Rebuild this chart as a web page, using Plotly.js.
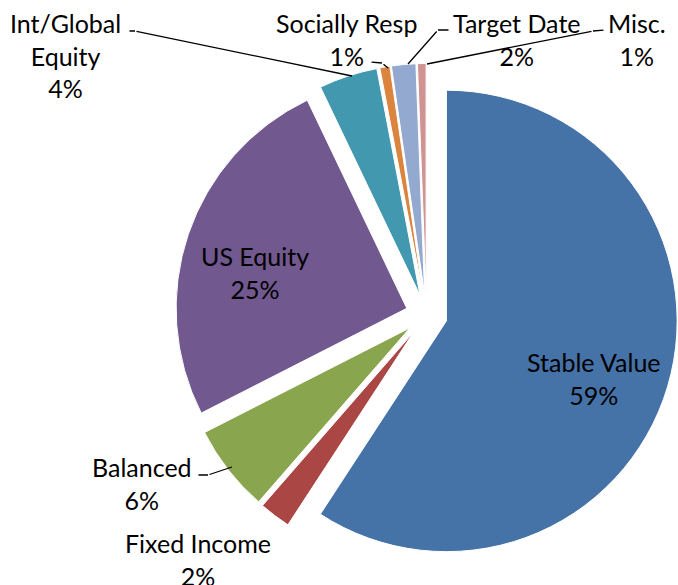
<!DOCTYPE html>
<html>
<head>
<meta charset="utf-8">
<script src="https://cdn.plot.ly/plotly-3.0.1.min.js"></script>
<style>
  body { margin: 0; background: #fff; }
  #chart { width: 678px; height: 585px; }
</style>
</head>
<body>
<div id="chart"></div>
<script>
// fund categories, clockwise from 12 o'clock
const categories = ['Stable Value', 'Fixed Income', 'Balanced', 'US Equity',
                    'Int/Global Equity', 'Socially Resp', 'Target Date', 'Misc.'];
const shares = [59.2, 2.2, 6.1, 25.4, 4.1, 0.7, 1.7, 0.6];
const colors = ['#4572A7', '#AA4643', '#89A54E', '#71588F',
                '#4198AF', '#DB843D', '#93A9CF', '#D19392'];

const W = 678, H = 585;
// pixel -> paper
function px(x) { return x / W; }
function py(y) { return 1 - y / H; }

const total = shares.reduce((a, b) => a + b, 0);
const pct = shares.map(v => Math.round(v / total * 100) + '%');
const shownName = categories.map(c => c === 'Int/Global Equity' ? 'Int/Global<br>Equity' : c);

// where each data label sits (centre of text block, px)
const labelPos = [[594, 378], [198, 559], [142, 484], [255, 272],
                  [65, 56], [346, 40], [516, 40], [637, 40]];

// leader lines: [tailX, tailY, elbowX, elbowY, tipX, tipY] (null = none)
const leaders = [null, null, [197, 475, 208, 475, 232, 467], null,
                 [128, 31, 135, 31, 352, 76], [370, 62, 382, 63, 388, 68],
                 [450, 30, 438, 30, 408, 64], [605, 30, 593, 31, 427, 64]];

let annotations = [];
categories.forEach((c, i) => {
    annotations.push({
        x: px(labelPos[i][0]), y: py(labelPos[i][1]),
        xref: 'paper', yref: 'paper',
        text: shownName[i] + '<br>' + pct[i],
        showarrow: false,
        xanchor: 'center', yanchor: 'middle',
        font: { family: 'Lato, sans-serif', size: 25, color: '#000' }
    });
    const l = leaders[i];
    if (l) {
        // tail -> elbow
        annotations.push({
            x: px(l[2]), y: py(l[3]), xref: 'paper', yref: 'paper',
            text: '', showarrow: true, arrowhead: 0, arrowwidth: 1.3,
            arrowcolor: '#000', standoff: 0, startstandoff: 0,
            ax: l[0] - l[2], ay: l[1] - l[3]
        });
        // elbow -> slice
        annotations.push({
            x: px(l[4]), y: py(l[5]), xref: 'paper', yref: 'paper',
            text: '', showarrow: true, arrowhead: 0, arrowwidth: 1.3,
            arrowcolor: '#000', standoff: 0, startstandoff: 0,
            ax: l[2] - l[4], ay: l[3] - l[5]
        });
    }
});

const trace = {
    type: 'pie',
    labels: categories,
    values: shares,
    sort: false,
    direction: 'clockwise',
    rotation: 0,
    pull: categories.map(() => 0.09),
    marker: { colors: colors, line: { color: '#fff', width: 1 } },
    textinfo: 'none',
    hoverinfo: 'label+percent',
    domain: { x: [175 / W, 1], y: [py(567), py(63)] }
};

const layout = {
    width: W,
    height: H,
    margin: { l: 0, r: 0, t: 0, b: 0 },
    showlegend: false,
    paper_bgcolor: '#fff',
    annotations: annotations
};

Plotly.newPlot('chart', [trace], layout, { staticPlot: true });
</script>
</body>
</html>
